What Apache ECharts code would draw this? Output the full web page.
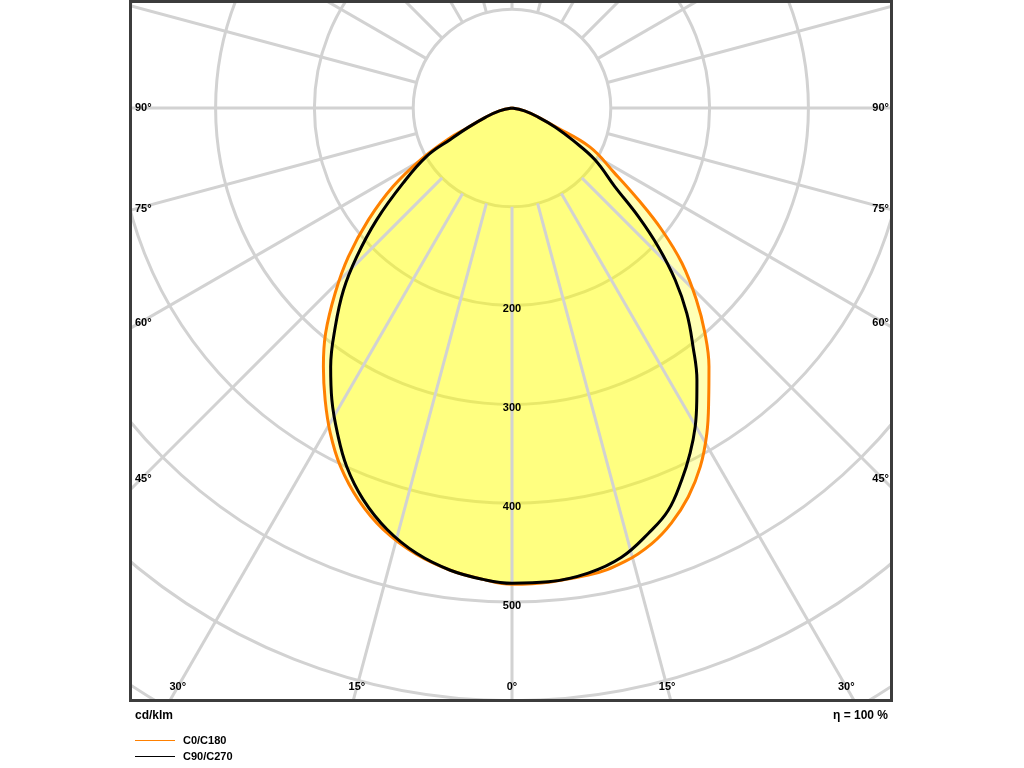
<!DOCTYPE html>
<html><head><meta charset="utf-8">
<script src="https://cdn.jsdelivr.net/npm/echarts@6/dist/echarts.min.js"></script>
<style>html,body{margin:0;padding:0;background:#fff}#c{width:1024px;height:768px}</style>
</head><body><div id="c"></div>
<script>
// gamma angles (deg from nadir) read per half-plane, and luminous intensity (cd/klm)
const c0Gamma   = [0, 9.3, 14, 17.8, 21, 24.4, 27.7, 30.9, 34, 37.3, 40.6, 43.9, 47.6, 50.9, 54, 57.6, 63.4, 67, 70.9, 77, 90];
const c0        = [482, 479, 473, 463, 450, 432, 410, 384, 356, 329, 300, 269, 233, 195, 158, 123, 88, 45, 28, 13, 0];
const c180Gamma = [0, 3.5, 7.6, 12.1, 17, 21.4, 25.6, 29.2, 32.6, 36.1, 39.6, 43.7, 47.7, 52.1, 56.6, 60.5, 64, 66.2, 70.9, 77, 90];
const c180      = [481, 478, 472, 462, 446, 426, 402, 377, 351, 324, 296, 259, 224, 184, 144, 106, 72, 48, 28, 13, 0];
const c90Gamma  = [0, 4.4, 9.3, 13.7, 17.8, 21.2, 24.5, 27.3, 29.9, 32.3, 34.2, 37.2, 40.4, 43.5, 46.5, 49.3, 52.6, 58, 62, 66.2, 70.9, 77, 90];
const c90       = [481, 481, 477, 468, 452, 437, 414, 393, 372, 350, 333, 303, 273, 240, 204, 169, 131, 99, 70, 48, 28, 13, 0];
const c270Gamma = [0, 3.5, 7.6, 12.1, 16.5, 20.8, 24.7, 28.3, 31.7, 35, 39, 42.8, 46.2, 50.4, 55.4, 60.5, 63, 66.2, 70.9, 77, 90];
const c270      = [481, 478, 472, 461, 445, 424, 400, 373, 347, 320, 284, 251, 218, 178, 134, 99, 70, 48, 28, 13, 0];
const radiusTickLabels = [200, 300, 400, 500];
const bottomAngleLabels = [0, 15, 30];
const sideAngleLabels = [45, 60, 75, 90];
const legendNames = ['C0/C180', 'C90/C270'];
const unitText = 'cd/klm';
const effText = 'η = 100 %';

const CX = 512, CY = 108, PX = 0.988, RMAX = 800, RINNER = 100;
const FONT = '"Liberation Sans", Arial, sans-serif';
const GRID = '#d2d2d2';
const FILL = 'rgba(255,255,0,0.29)';

// right half: angle value = 360 - gamma ; left half: angle value = gamma
function loop(rG, rV, lG, lV) {
  const pts = [];
  for (let i = rG.length - 1; i >= 0; i--) pts.push([rV[i], 360 - rG[i]]);
  for (let i = 1; i < lG.length; i++) pts.push([lV[i], lG[i]]);
  return pts;
}

const series = [];
for (let a = 0; a < 360; a += 15) {
  series.push({
    type: 'line', coordinateSystem: 'polar', silent: true, symbol: 'none',
    data: [[RINNER, a], [RMAX, a]],
    lineStyle: { color: GRID, width: 3 }, animation: false
  });
}
series.push({
  name: legendNames[0], type: 'line', coordinateSystem: 'polar', symbol: 'none', smooth: 0.4,
  data: loop(c0Gamma, c0, c180Gamma, c180),
  lineStyle: { color: '#ff8000', width: 3 },
  itemStyle: { color: '#ff8000' },
  areaStyle: { color: FILL, opacity: 1 }, animation: false
});
series.push({
  name: legendNames[1], type: 'line', coordinateSystem: 'polar', symbol: 'none', smooth: 0.4,
  data: loop(c90Gamma, c90, c270Gamma, c270),
  lineStyle: { color: '#000000', width: 3 },
  itemStyle: { color: '#000000' },
  areaStyle: { color: FILL, opacity: 1 }, animation: false
});

const graphics = [];
graphics.push({ type: 'rect', z: 100, shape: { x: 0, y: 0, width: 130, height: 768 }, style: { fill: '#fff' } });
graphics.push({ type: 'rect', z: 100, shape: { x: 892, y: 0, width: 132, height: 768 }, style: { fill: '#fff' } });
graphics.push({ type: 'rect', z: 100, shape: { x: 0, y: 701, width: 1024, height: 67 }, style: { fill: '#fff' } });
graphics.push({ type: 'rect', z: 101, shape: { x: 130.5, y: 1.5, width: 761, height: 699 }, style: { fill: 'none', stroke: '#3c3c3c', lineWidth: 3 } });

const lblStyle = (t, align, size) => ({ text: t, fontSize: size || 11, fontWeight: 'bold', fontFamily: FONT, fill: '#000', align: align, verticalAlign: 'middle' });
const yBottom = 687;
bottomAngleLabels.forEach(g => {
  const dx = (yBottom - CY) * Math.tan(g * Math.PI / 180);
  graphics.push({ type: 'text', z: 102, x: CX - dx, y: yBottom, style: lblStyle(g + '°', 'center') });
  if (g !== 0) graphics.push({ type: 'text', z: 102, x: CX + dx, y: yBottom, style: lblStyle(g + '°', 'center') });
});
const xSide = 369;
sideAngleLabels.forEach(g => {
  const y = CY + (g === 90 ? 0 : xSide / Math.tan(g * Math.PI / 180) + 2);
  graphics.push({ type: 'text', z: 102, x: 135, y: y, style: lblStyle(g + '°', 'left') });
  graphics.push({ type: 'text', z: 102, x: 889, y: y, style: lblStyle(g + '°', 'right') });
});
graphics.push({ type: 'text', z: 102, x: 135, y: 716, style: lblStyle(unitText, 'left', 12) });
graphics.push({ type: 'text', z: 102, x: 888, y: 716, style: lblStyle(effText, 'right', 12) });

const chart = echarts.init(document.getElementById('c'), null, { renderer: 'canvas' });
chart.setOption({
  animation: false,
  backgroundColor: '#fff',
  polar: { center: [CX, CY], radius: RMAX * PX },
  angleAxis: { type: 'value', min: 0, max: 360, startAngle: 270, clockwise: true,
    axisLine: { show: false }, axisTick: { show: false }, axisLabel: { show: false }, splitLine: { show: false } },
  radiusAxis: { type: 'value', min: 0, max: RMAX, interval: 100,
    axisLine: { show: false }, axisTick: { show: false }, axisLabel: { show: false },
    splitLine: { show: true, lineStyle: { color: GRID, width: 3 } } },
  legend: { data: legendNames, orient: 'vertical', left: 135, top: 735, padding: 0, z: 120,
    icon: 'rect', itemWidth: 40, itemHeight: 1, itemGap: 5,
    textStyle: { fontSize: 11, fontWeight: 'bold', fontFamily: FONT, color: '#000', padding: [0, 0, 0, 3] } },
  graphic: { elements: graphics },
  series: series
});

// radius value labels placed through the polar scale
const curveIdx = series.length - 1;
const radiusLabels = radiusTickLabels.map(v => {
  const p = chart.convertToPixel({ seriesIndex: curveIdx }, [v, 0]);
  return { type: 'text', z: 102, x: p[0], y: p[1] - 2, style: Object.assign(lblStyle(String(v), 'center'), { verticalAlign: 'top' }) };
});
chart.setOption({ graphic: { elements: graphics.concat(radiusLabels) } });
</script></body></html>
